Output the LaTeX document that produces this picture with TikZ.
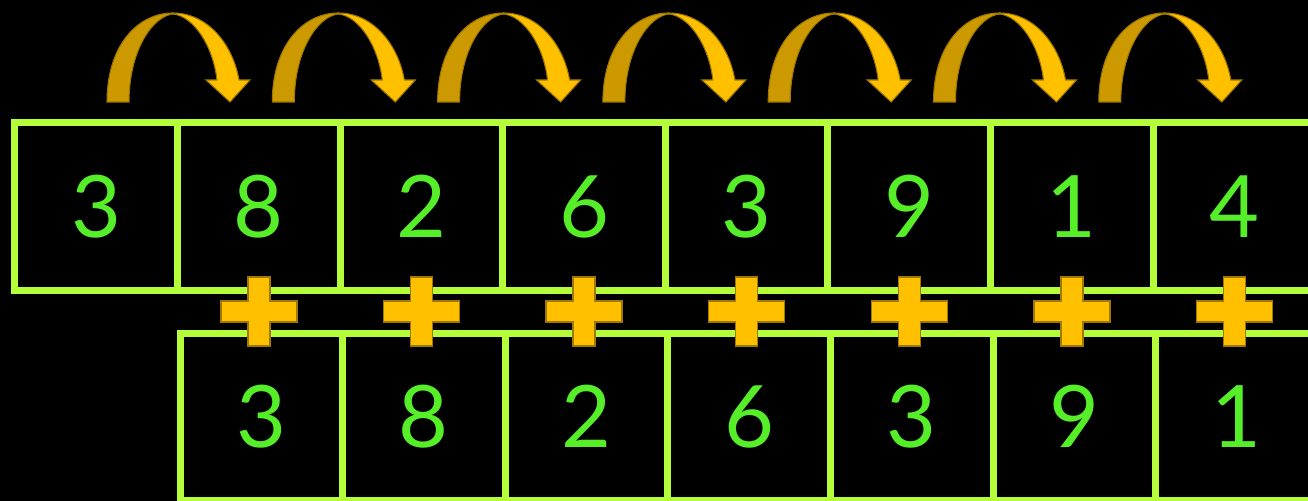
\documentclass[tikz,border=0pt]{standalone}
\usepackage{fontspec}
\setmainfont{Lato}
\usetikzlibrary{positioning}

\definecolor{gridline}{HTML}{B4FF3A}
\definecolor{digitgreen}{HTML}{55EE28}
\definecolor{arrowgold}{HTML}{FFC000}
\definecolor{arrowdark}{HTML}{CC9A00}
\definecolor{goldedge}{HTML}{A07800}

\tikzset{
  cell/.style={draw=gridline, line width=2pt, outer sep=0pt, inner sep=0pt,
    minimum width=1.625cm, minimum height=1.67cm, text=digitgreen,
    font=\fontsize{24.5}{28}\selectfont},
  plusmark/.style={fill=arrowgold, draw=goldedge, line width=0.4pt},
  bandback/.style={fill=arrowdark, draw=goldedge, line width=0.3pt},
  bandfront/.style={fill=arrowgold, draw=goldedge, line width=0.3pt}
}

\begin{document}
\begin{tikzpicture}[x=0.01cm, y=-0.01cm]

  % Canvas
  \useasboundingbox (0,0) rectangle (1308,501);
  \fill[black] (0,0) rectangle (1308,501);
  \clip (0,0) rectangle (1308,501);

  % Top row
  \node[cell] (t0) at (96.25,206.5) {3};
  \foreach \d [count=\i from 1, evaluate=\i as \j using int(\i-1)] in {8,2,6,3,9,1,4}
    \node[cell, right=0pt of t\j] (t\i) {\d};

  % Bottom row (shifted by one cell)
  \node[cell, below=0.43cm of t1, xshift=0.025cm] (b0) {3};
  \foreach \d [count=\i from 1, evaluate=\i as \j using int(\i-1)] in {8,2,6,3,9,1}
    \node[cell, right=0pt of b\j] (b\i) {\d};

  % Plus signs between the rows
  \foreach \i in {1,...,7} {
    \coordinate (p\i) at ([yshift=-0.215cm]t\i.south);
    \filldraw[plusmark] (p\i) ++(-38,-10.5) -- ++(27,0) -- ++(0,-24) -- ++(22,0)
      -- ++(0,24) -- ++(27,0) -- ++(0,21) -- ++(-27,0) -- ++(0,24) -- ++(-22,0)
      -- ++(0,-24) -- ++(-27,0) -- cycle;
  }

  % Curved shift arrows above the top row
  \foreach \k in {0,...,6} {
    \begin{scope}[shift={(118+165.3*\k,102)}]
      \filldraw[bandback] (-11,0) .. controls (-11,-57) and (20,-89) .. (55,-89)
        -- (55,-88) .. controls (35,-86) and (11,-52) .. (11,0) -- cycle;
      \filldraw[bandfront] (55,-89) .. controls (90,-89) and (115,-57) .. (121,-22)
        -- (132,-22) -- (112,0) -- (88,-22) -- (99,-22)
        .. controls (95,-57) and (75,-86) .. (55,-88) -- cycle;
    \end{scope}
  }

\end{tikzpicture}
\end{document}
